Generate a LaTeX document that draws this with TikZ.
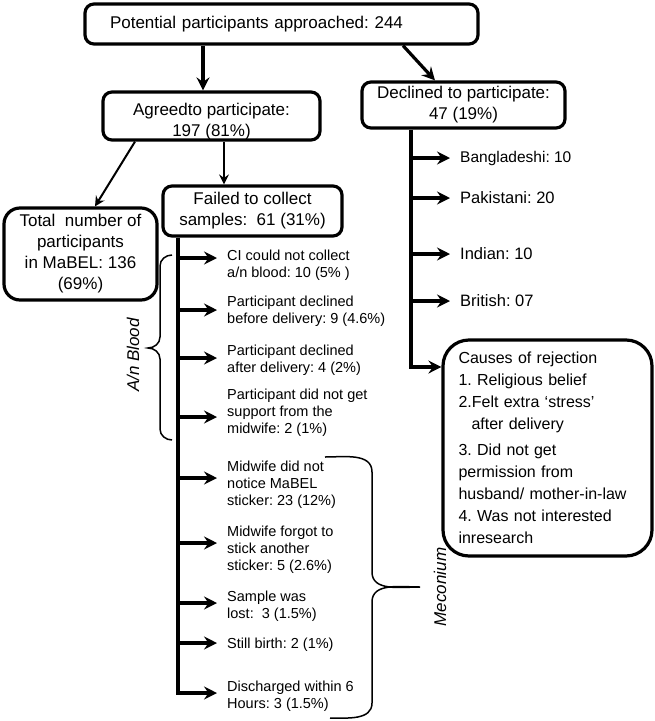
\documentclass[tikz,border=0pt]{standalone}
\usepackage{fontspec}
\setmainfont{Liberation Sans}
\usetikzlibrary{arrows.meta}
\frenchspacing

\begin{document}
\begin{tikzpicture}[x=1pt, y=-1pt,
    box/.style={draw, line width=3.2pt, rounded corners=9pt, inner sep=0pt},
    big/.style={font=\fontsize{17}{21}\selectfont, align=center},
    lbl/.style={font=\fontsize{16.5}{19}\selectfont, anchor=west, inner xsep=10pt, inner ysep=0pt},
    small/.style={font=\fontsize{14.5}{16.8}\selectfont, align=left, anchor=west, inner xsep=10pt, inner ysep=0pt},
    grp/.style={font=\fontsize{17}{20}\selectfont\itshape, rotate=90},
    thk/.style={line width=3.2pt, -{Stealth[length=13pt, width=13pt, inset=4.5pt]}},
    thn/.style={line width=2pt, -{Stealth[length=10pt, width=10pt, inset=3.5pt]}},
    brc/.style={line width=1.5pt}
  ]
  \useasboundingbox (0,0) rectangle (655,721);

  \node[box, big, minimum width=393pt, minimum height=40pt, text width=343pt, align=left] (top) at (281.5,24) {Potential participants approached: 244};
  \node[box, minimum width=217pt, minimum height=48pt] (agreed) at (211.5,116) {};
  \node[big] (agreedtxt) at (211.5,122) {Agreedto participate:\\197 (81\%)};
  \node[box, big, minimum width=203pt, minimum height=46pt] (declined) at (463.5,105) {Declined to participate:\\47 (19\%)};
  \node[box, big, minimum width=179pt, minimum height=50pt] (failed) at (252.5,211) {Failed to collect\\samples:\ \ 61 (31\%)};
  \node[box, big, minimum width=153pt, minimum height=92pt, rounded corners=16pt] (total) at (80.5,254) {Total\ \ number of\\participants\\in MaBEL: 136\\(69\%)};
  \node[box, font=\fontsize{16}{22}\selectfont, align=left, text width=178pt, minimum width=209pt, minimum height=216pt, rounded corners=26pt] (causes) at (547.5,448)
    {Causes of rejection\\1. Religious belief\\2.Felt extra ‘stress’\\\hspace*{13pt}after delivery\\[4pt]3. Did not get\\permission from\\husband/ mother-in-law\\4. Was not interested\\inresearch};

  \draw[thk] ([xshift=-8.5pt]agreed.north |- top.south) -- ([xshift=-8.5pt]agreed.north);
  \draw[thk] ([xshift=121.5pt]top.south) -- ([xshift=-28.5pt]declined.north);
  \draw[thn] ([xshift=-76.5pt]agreed.south) -- ([xshift=14.5pt]total.north);
  \draw[thn] ([xshift=12.5pt]agreed.south) -- ([xshift=-28.5pt]failed.north);

  \coordinate (dtrunk) at ([xshift=-52.5pt]declined.south);
  \node[lbl, font=\fontsize{15.5}{18}\selectfont] (bang) at (450,158) {Bangladeshi: 10};
  \node[lbl] (paki) at (450,198) {Pakistani: 20};
  \node[lbl] (indian) at (450,254) {Indian: 10};
  \node[lbl] (brit) at (450,301) {British: 07};
  \foreach \n in {bang,paki,indian,brit}
    \draw[thk] (dtrunk |- \n.west) -- (\n.west);
  \draw[thk] (dtrunk) |- ([yshift=81pt]causes.west);

  \coordinate (ftrunk) at ([xshift=-74.5pt]failed.south);
  \node[small] (f1) at (217,265.5) {CI could not collect\\a/n blood: 10 (5\% )};
  \node[small] (f2) at (217,311.5) {Participant declined\\before delivery: 9 (4.6\%)};
  \node[small] (f3) at (217,360) {Participant declined\\after delivery: 4 (2\%)};
  \node[small] (f4) at (217,413) {Participant did not get\\support from the\\midwife: 2 (1\%)};
  \node[small] (f5) at (217,485) {Midwife did not\\notice MaBEL\\sticker: 23 (12\%)};
  \node[small] (f6) at (217,550) {Midwife forgot to\\stick another\\sticker: 5 (2.6\%)};
  \node[small] (f7) at (217,606.5) {Sample was\\lost:\ \ 3 (1.5\%)};
  \node[small] (f8) at (217,645) {Still birth: 2 (1\%)};
  \node[small] (f9) at (217,696.5) {Discharged within 6\\Hours: 3 (1.5\%)};
  \foreach \n/\y in {1/258,2/310,3/358,4/417,5/478,6/543,7/603,8/643,9/693}
    \coordinate (a\n) at (217,\y);
  \foreach \n in {1,...,8}
    \draw[thk] (ftrunk |- a\n) -- (a\n);
  \draw[thk] (ftrunk) |- (a9);

  \draw[brc] (172,255) to[out=180,in=90] (160,266) -- (160,337) to[out=-90,in=0] (148,348)
    to[out=0,in=90] (160,359) -- (160,429) to[out=-90,in=180] (172,440);
  \node[grp] (anblood) at (133,355) {A/n Blood};
  \draw[brc] (325,457) to[out=0,in=90] (372,472) -- (372,572) to[out=-90,in=180] (420,587)
    to[out=180,in=90] (372,602) -- (372,703) to[out=-90,in=0] (330,718);
  \node[grp] (mec) at (440,587) {Meconium};
\end{tikzpicture}
\end{document}
